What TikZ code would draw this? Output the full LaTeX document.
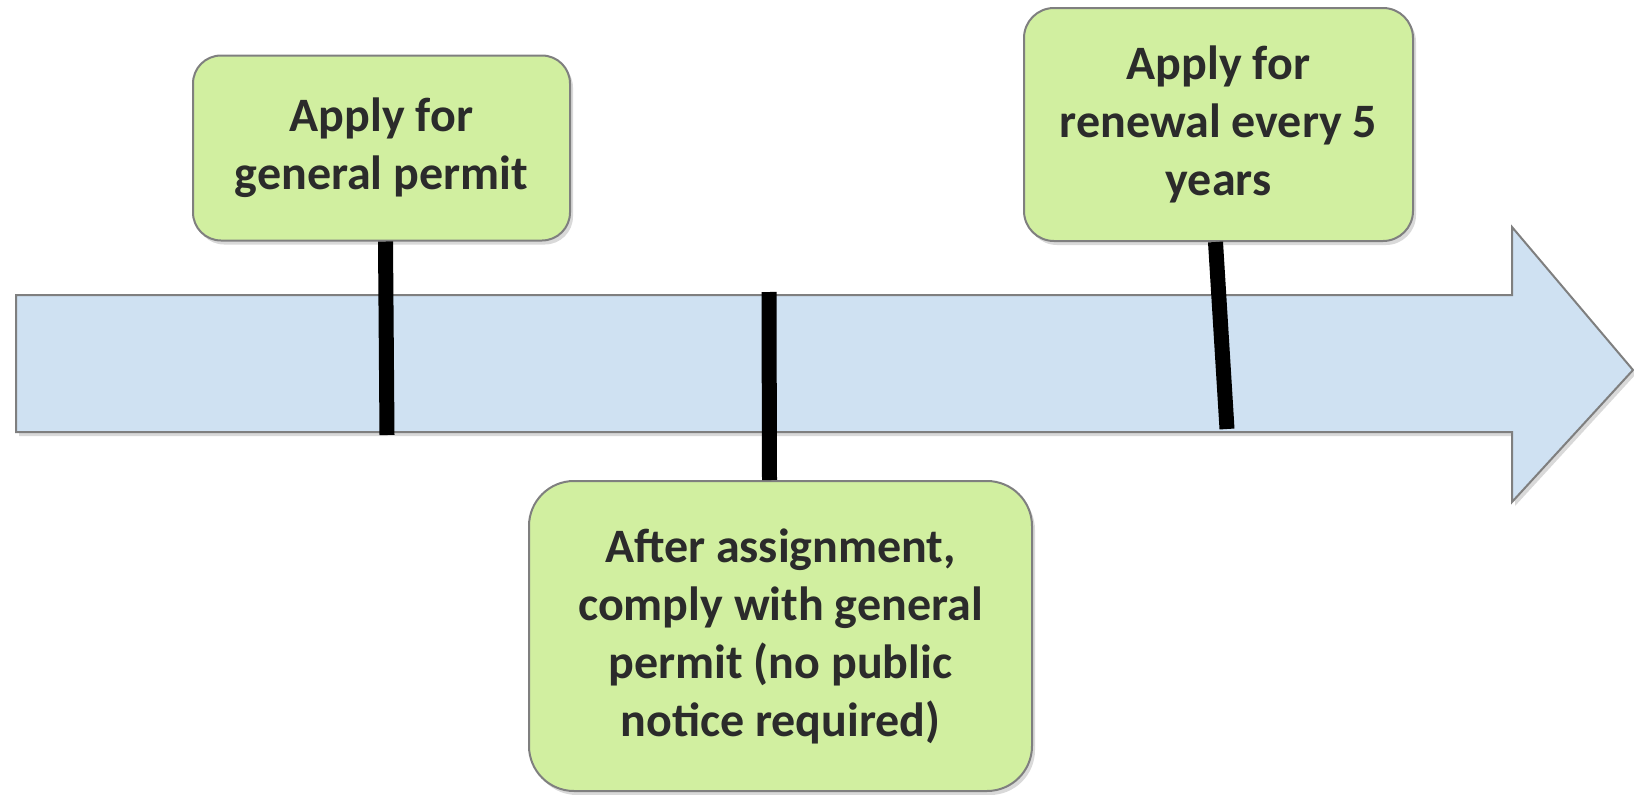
\documentclass[tikz,border=0pt]{standalone}
\usepackage{fontspec}
\setmainfont{Carlito}
\usetikzlibrary{shadows}
\definecolor{boxgreen}{HTML}{D1EFA0}
\definecolor{barblue}{HTML}{CFE1F2}
\definecolor{edgegray}{HTML}{7F7F7F}
\definecolor{textgray}{HTML}{2B2B2B}
\tikzset{
  stagebox/.style={draw=edgegray, line width=2pt, fill=boxgreen, align=center,
    text=textgray, font=\fontsize{48}{58}\selectfont\bfseries, inner sep=0pt,
    drop shadow={shadow xshift=3pt, shadow yshift=-4pt, opacity=.3}},
  tick/.style={line width=15pt, black}
}
\begin{document}
\begin{tikzpicture}[x=1pt, y=-1pt]
    \useasboundingbox (0,0) rectangle (1634,795);
    %%%%%%%%%% Freccia %%%%%%%%%%
    \draw[edgegray, line width=2pt, fill=barblue,
          drop shadow={shadow xshift=3pt, shadow yshift=-4pt, opacity=.3}]
        (16,295) -- (1512,295) -- (1512,227) -- (1633,370)
        -- (1512,502) -- (1512,432) -- (16,432) -- cycle;

    %%%%%%%%%% Nodi %%%%%%%%%%
    \node[stagebox, minimum width=377pt, minimum height=185pt, rounded corners=28pt]
        (apply) at (381.5,148) {Apply for\\general permit};
    \node[stagebox, minimum width=389pt, minimum height=233pt, rounded corners=30pt]
        (renew) at (1218.5,124.5) {Apply for\\renewal every 5\\years};
    \node[stagebox, minimum width=503pt, minimum height=310pt, rounded corners=45pt]
        (comply) at (780.5,636) {After assignment,\\comply with general\\permit (no public\\notice required)};

    \coordinate (m1) at (387,435);
    \coordinate (m2) at (769,292);
    \coordinate (m3) at (1227,429);

    %%%%%%%%%% Tacche %%%%%%%%%%
    \draw[tick] ([xshift=4pt]apply.south) -- (m1);
    \draw[tick] ([xshift=-11pt]comply.north) -- (m2);
    \draw[tick] ([xshift=-3pt]renew.south) -- (m3);
\end{tikzpicture}
\end{document}
